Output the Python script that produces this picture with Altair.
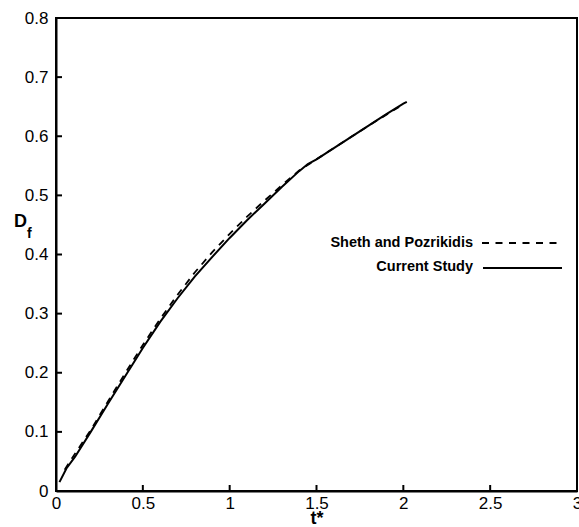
import altair as alt
import pandas as pd

# Current Study (solid)
t_cur = [0.02, 0.06, 0.11, 0.2, 0.3, 0.4, 0.5, 0.6, 0.7, 0.8, 0.9, 1.0, 1.1, 1.2,
         1.3, 1.4, 1.45, 1.5, 1.6, 1.7, 1.8, 1.9, 2.0, 2.02]
d_cur = [0.015, 0.038, 0.058, 0.10, 0.148, 0.195, 0.242, 0.286, 0.326, 0.363, 0.396,
         0.428, 0.458, 0.486, 0.514, 0.541, 0.553, 0.561, 0.58, 0.599, 0.618, 0.637,
         0.655, 0.658]

# Sheth and Pozrikidis (dashed)
t_sp = [0.05, 0.1, 0.2, 0.3, 0.4, 0.5, 0.6, 0.7, 0.8, 0.9, 1.0, 1.1, 1.2, 1.3, 1.4,
        1.5, 1.6, 1.7, 1.8, 1.9, 2.0]
d_sp = [0.036, 0.059, 0.103, 0.152, 0.2, 0.247, 0.291, 0.332, 0.37, 0.404, 0.435,
        0.464, 0.491, 0.517, 0.542, 0.561, 0.58, 0.599, 0.618, 0.636, 0.654]

x_ticks = [0, 0.5, 1, 1.5, 2, 2.5, 3]
y_ticks = [0, 0.1, 0.2, 0.3, 0.4, 0.5, 0.6, 0.7, 0.8]
x_inner_ticks = [0.5, 1, 1.5, 2, 2.5]
y_inner_ticks = [0.1, 0.2, 0.3, 0.4, 0.5, 0.6, 0.7]
legend_labels = ["Sheth and Pozrikidis", "Current Study"]

FONT = "Liberation Sans"

df_cur = pd.DataFrame({"t": t_cur, "D": d_cur})
df_sp = pd.DataFrame({"t": t_sp, "D": d_sp})

xs = alt.Scale(domain=[0, 3], nice=False)
ys = alt.Scale(domain=[0, 0.8], nice=False)

x_axis = alt.Axis(values=x_ticks, format="~g", title="t*", titleFont=FONT,
                  titleFontSize=18, titleFontWeight="bold", titleColor="black",
                  titleY=18, titleBaseline="top",
                  labelFont=FONT, labelFontSize=17, labelColor="black",
                  labelPadding=4, tickSize=0, domainColor="black",
                  domainWidth=2, grid=False, labelFlush=False, labelOverlap=False)
y_axis = alt.Axis(values=y_ticks, format="~g", title=None,
                  labelFont=FONT, labelFontSize=17, labelColor="black",
                  labelPadding=8, tickSize=0, domainColor="black",
                  domainWidth=2, grid=False, labelFlush=False, labelOverlap=False)

solid = alt.Chart(df_cur).mark_line(color="black", strokeWidth=2).encode(
    x=alt.X("t:Q", scale=xs, axis=x_axis),
    y=alt.Y("D:Q", scale=ys, axis=y_axis),
)
dashed = alt.Chart(df_sp).mark_line(color="black", strokeWidth=1.8,
                                    strokeDash=[7, 6]).encode(
    x=alt.X("t:Q", scale=xs),
    y=alt.Y("D:Q", scale=ys),
)

xt = alt.Chart(pd.DataFrame({"v": x_inner_ticks})).mark_rule(
    color="black", strokeWidth=2).encode(
    x=alt.X("v:Q", scale=xs), y=alt.value(473), y2=alt.value(467))
yt = alt.Chart(pd.DataFrame({"v": y_inner_ticks})).mark_rule(
    color="black", strokeWidth=2).encode(
    y=alt.Y("v:Q", scale=ys), x=alt.value(0), x2=alt.value(6))

leg_df = pd.DataFrame({"label": legend_labels})
leg_text1 = alt.Chart(leg_df).transform_filter(
    alt.datum.label == legend_labels[0]).mark_text(
    align="right", baseline="middle", font=FONT, fontSize=14.5,
    fontWeight="bold", color="black").encode(
    text="label:N", x=alt.value(417), y=alt.value(225))
leg_text2 = alt.Chart(leg_df).transform_filter(
    alt.datum.label == legend_labels[1]).mark_text(
    align="right", baseline="middle", font=FONT, fontSize=14.5,
    fontWeight="bold", color="black").encode(
    text="label:N", x=alt.value(417), y=alt.value(249))
leg_line1 = alt.Chart(leg_df).transform_filter(
    alt.datum.label == legend_labels[0]).mark_rule(
    color="black", strokeWidth=2, strokeDash=[7, 6.5]).encode(
    x=alt.value(426), x2=alt.value(506), y=alt.value(225))
leg_line2 = alt.Chart(leg_df).transform_filter(
    alt.datum.label == legend_labels[1]).mark_rule(
    color="black", strokeWidth=2).encode(
    x=alt.value(427), x2=alt.value(506), y=alt.value(250))

ytitle_df = pd.DataFrame({"main": ["D"], "sub": ["f"]})
ytitle_main = alt.Chart(ytitle_df).mark_text(
    align="left", baseline="middle", font=FONT, fontSize=18,
    fontWeight="bold", color="black").encode(
    text="main:N", x=alt.value(-42), y=alt.value(204))
ytitle_sub = alt.Chart(ytitle_df).mark_text(
    align="left", baseline="middle", font=FONT, fontSize=14,
    fontWeight="bold", color="black").encode(
    text="sub:N", x=alt.value(-29), y=alt.value(216))

chart = alt.layer(
    solid, dashed, xt, yt, leg_text1, leg_text2, leg_line1, leg_line2,
    ytitle_main, ytitle_sub
).properties(
    width=521, height=473,
    autosize=alt.AutoSizeParams(type="none"),
    padding={"left": 56, "top": 18, "right": 2, "bottom": 36},
    background="white",
).configure_view(stroke="black", strokeWidth=2)

chart.save("out.html", embed_options={"renderer": "svg", "actions": False})
